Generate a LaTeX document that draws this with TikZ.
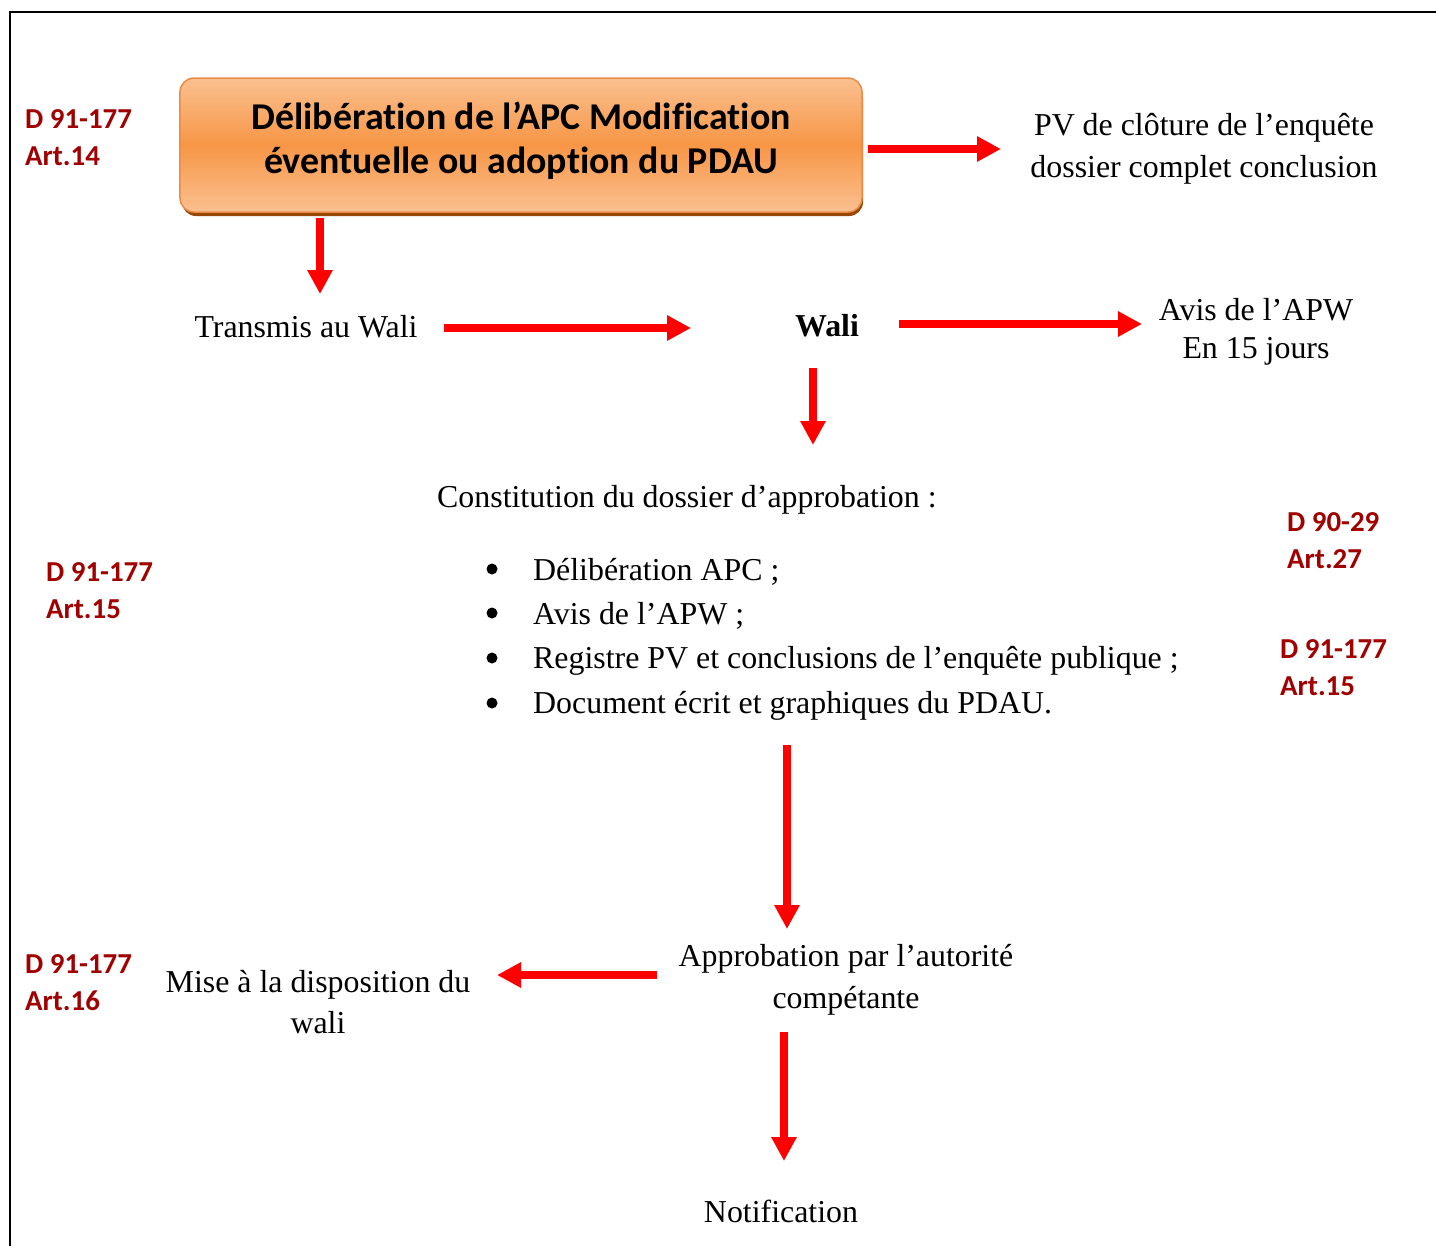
\documentclass[tikz,border=0pt]{standalone}
\usepackage{fontspec}
\setmainfont[Ligatures=NoCommon]{Liberation Serif}
\newfontfamily\calib[Ligatures=NoCommon]{Carlito}
\usetikzlibrary{arrows.meta,shadows}
\definecolor{artred}{RGB}{160,0,0}
\definecolor{boxmid}{RGB}{247,150,70}
\definecolor{boxlight}{RGB}{250,192,144}
\definecolor{boxedge}{RGB}{235,140,70}
\definecolor{boxshadow}{RGB}{152,72,6}
\tikzset{
  txt/.style={font=\fontsize{32}{42}\selectfont, inner sep=0pt, align=center},
  art/.style={font=\calib\bfseries\fontsize{29}{37}\selectfont, text=artred, inner sep=0pt, anchor=west, align=left},
  redarrow/.style={draw=red, line width=7.5bp, -{Triangle[width=24bp,length=24bp]}},
}
\begin{document}
\begin{tikzpicture}[x=1bp,y=-1bp]
\useasboundingbox (0,0) rectangle (1436,1246);
% frame
\draw[line width=2bp] (10,1246) -- (10,12) -- (1436,12);
% top box
\fill[boxshadow, rounded corners=14bp] (182,84) rectangle (863,216);
\node[draw=boxedge, line width=1.5bp, rounded corners=14bp, minimum width=682bp, minimum height=134bp,
      top color=boxlight, bottom color=boxlight, middle color=boxmid, inner sep=0pt] (delib) at (521,145) {};
\node[font=\calib\bfseries\fontsize{38}{44}\selectfont, align=center, inner sep=0pt] (title) at (521,141)
      {Délibération de l’APC Modification\\éventuelle ou adoption du PDAU};
\node[art] (a14) at (25,138) {D 91-177\\Art.14};
% PV
\node[txt] (pv) at (1204,149) {PV de clôture de l’enquête\\dossier complet conclusion};
% transmis, wali, avis
\node[txt] (transmis) at (306,327) {Transmis au Wali};
\node[txt, font=\bfseries\fontsize{32}{42}\selectfont] (wali) at (827,326) {Wali};
\node[txt, font=\fontsize{32}{38}\selectfont] (avis) at (1256,332) {Avis de l’APW\\En 15 jours};
% constitution
\node[txt, anchor=west] (const) at (437,500) {Constitution du dossier d’approbation :};
\node[txt, anchor=west] (b1) at (533,572) {Délibération APC ;};
\node[txt, anchor=west] (b2) at (533,616) {Avis de l’APW ;};
\node[txt, anchor=west] (b3) at (533,661) {Registre PV et conclusions de l’enquête publique ;};
\node[txt, anchor=west] (b4) at (533,706) {Document écrit et graphiques du PDAU.};
\foreach \yy/\nm in {569/d1,613/d2,658/d3,703/d4}
  \fill (492,\yy) circle (5.5bp);
\node[art] (a15l) at (46,591) {D 91-177\\Art.15};
\node[art] (a27) at (1287,541) {D 90-29\\Art.27};
\node[art] (a15r) at (1280,668) {D 91-177\\Art.15};
% approbation
\node[txt] (appro) at (846,980) {Approbation par l’autorité\\compétante};
\node[txt] (mise) at (318,1002) {Mise à la disposition du\\wali};
\node[art] (a16) at (25,983) {D 91-177\\Art.16};
\node[txt] (notif) at (781,1211) {Notification};
% arrows
\coordinate (c1s) at (868,149); \coordinate (c1e) at (1001,149);
\draw[redarrow] (c1s) -- (c1e);
\coordinate (c2s) at (320,218); \coordinate (c2e) at (320,294);
\draw[redarrow] (c2s) -- (c2e);
\coordinate (c3s) at (444,328); \coordinate (c3e) at (691,328);
\draw[redarrow] (c3s) -- (c3e);
\coordinate (c4s) at (899,324); \coordinate (c4e) at (1142,324);
\draw[redarrow] (c4s) -- (c4e);
\coordinate (c5s) at (813,368); \coordinate (c5e) at (813,445);
\draw[redarrow] (c5s) -- (c5e);
\coordinate (c6s) at (787,745); \coordinate (c6e) at (787,929);
\draw[redarrow] (c6s) -- (c6e);
\coordinate (c7s) at (657,975); \coordinate (c7e) at (497,975);
\draw[redarrow] (c7s) -- (c7e);
\coordinate (c8s) at (784,1032); \coordinate (c8e) at (784,1161);
\draw[redarrow] (c8s) -- (c8e);
\end{tikzpicture}
\end{document}
